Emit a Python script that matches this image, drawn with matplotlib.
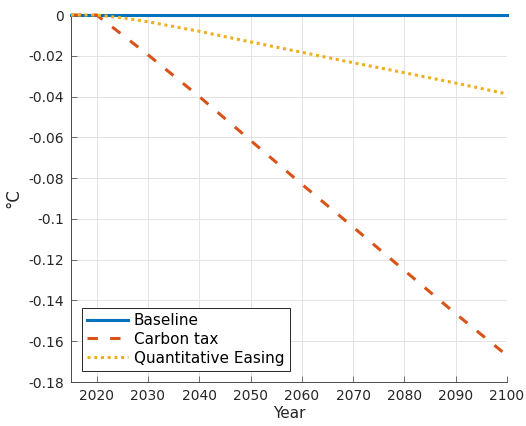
import matplotlib
matplotlib.use("Agg")
import matplotlib.pyplot as plt

years = [2015, 2020, 2025, 2030, 2040, 2050, 2060, 2070, 2080, 2090, 2100]
baseline = [0, 0, 0, 0, 0, 0, 0, 0, 0, 0, 0]
carbon_tax = [0, 0, -0.0097, -0.0195, -0.0400, -0.0615, -0.0830, -0.1040, -0.1253, -0.1465, -0.1670]
qe = [0, 0, -0.0014, -0.0033, -0.0080, -0.0132, -0.0183, -0.0234, -0.0283, -0.0334, -0.0387]

yticks = [0, -0.02, -0.04, -0.06, -0.08, -0.1, -0.12, -0.14, -0.16, -0.18]
ytick_labels = ["0", "-0.02", "-0.04", "-0.06", "-0.08", "-0.1", "-0.12", "-0.14", "-0.16", "-0.18"]
xticks = [2020, 2030, 2040, 2050, 2060, 2070, 2080, 2090, 2100]

plt.rcParams['font.family'] = ['DejaVu Sans']
plt.rcParams['axes.unicode_minus'] = False

fig = plt.figure(figsize=(5.26, 4.26), dpi=100)
ax = fig.add_axes([71/526, 1-382/426, (507-71)/526, (382-15)/426])

tc = '#262626'
ax.plot(years, baseline, color='#0072BD', lw=2.2, label='Baseline', clip_on=False, zorder=3)
ax.plot(years, carbon_tax, color='#D95319', lw=2.2, dashes=(3.4, 4.0), label='Carbon tax', clip_on=False, zorder=4)
ax.plot(years, qe, color='#EDB120', lw=2.2, dashes=(1, 1.2), label='Quantitative Easing', clip_on=False, zorder=5)

ax.set_xlim(2015, 2100)
ax.set_ylim(-0.18, 0)
ax.set_xticks(xticks)
ax.set_xticklabels([str(x) for x in xticks])
ax.set_yticks(yticks)
ax.set_yticklabels(ytick_labels)
ax.tick_params(direction='in', length=4, width=0.7, colors=tc, labelsize=10, pad=5)
ax.tick_params(axis='both', color='#6a6a6a')
ax.grid(True, color='#e3e3e3', lw=0.7)
ax.set_axisbelow(True)
for s in ['top', 'right']:
    ax.spines[s].set_visible(False)
for s in ['left', 'bottom']:
    ax.spines[s].set_color('#4a4a4a')
    ax.spines[s].set_linewidth(0.7)

ax.set_xlabel('Year', fontsize=11, color=tc, labelpad=2)
ax.set_ylabel('°C', fontsize=12, color=tc, labelpad=4)

leg = ax.legend(loc='lower left', bbox_to_anchor=(0.025, 0.03), fontsize=11,
                fancybox=False, framealpha=1, edgecolor=tc, handlelength=2.7,
                handletextpad=0.35, borderpad=0.35, labelspacing=0.25, borderaxespad=0)
leg.get_frame().set_linewidth(0.7)
for t in leg.get_texts():
    t.set_color('#000000')

fig.savefig('out.png', dpi=100)
